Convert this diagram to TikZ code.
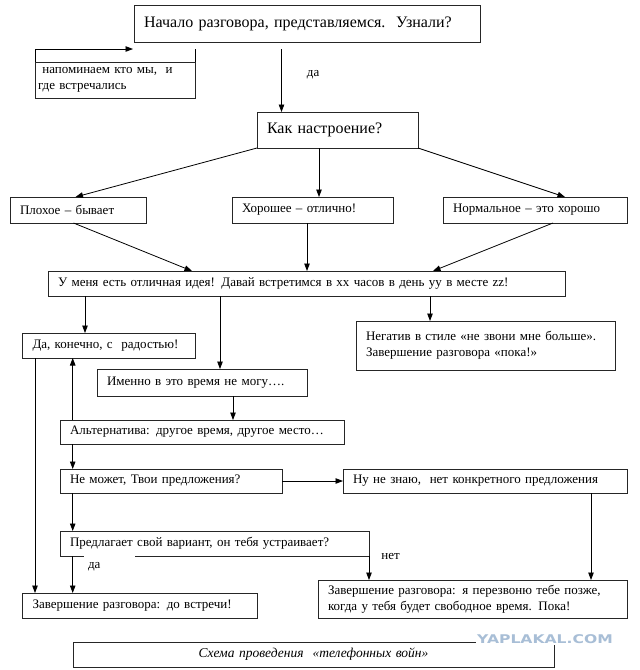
\documentclass[tikz,border=0pt]{standalone}
\usepackage{fontspec}
\setmainfont{Liberation Serif}
\newfontfamily\markfont{DejaVu Sans}
\usetikzlibrary{arrows.meta, calc}
\definecolor{markblue}{RGB}{168,190,214}

\tikzset{
    box/.style={draw=black!85, line width=0.8pt, anchor=north west, inner xsep=10pt, inner ysep=0pt,
        outer sep=0pt, align=left, font=\fontsize{13}{16}\selectfont},
    bigbox/.style={box, font=\fontsize{16}{18}\selectfont},
    arr/.style={line width=0.8pt, -{Triangle[length=7.5pt,width=5.5pt]}},
    lbl/.style={font=\fontsize{13}{14}\selectfont, inner sep=0pt}
}

\begin{document}
\begin{tikzpicture}[x=1pt, y=-1pt]
    \useasboundingbox (0,0) rectangle (640,670);

    % Top part
    \node[bigbox, text width=326pt, minimum height=37pt] (start) at (134,5)
        {Начало разговора, представляемся.~~Узнали?};
    \node[box, inner xsep=3pt, text width=154pt, minimum height=36pt] (remind) at (35,62)
        {\ напоминаем кто мы,~ и\\где встречались};
    \node[bigbox, text width=141pt, minimum height=36pt] (mood) at (257,112) {Как настроение?};

    % Mood answers
    \node[box, text width=116pt, minimum height=26pt] (bad) at (10,197) {Плохое – бывает};
    \node[box, text width=141pt, minimum height=26pt] (good) at (232,197) {Хорошее – отлично!};
    \node[box, text width=164pt, minimum height=26pt] (normal) at (443,197) {Нормальное – это хорошо};

    % Proposal
    \node[box, text width=497pt, minimum height=25pt] (idea) at (48,271)
        {У меня есть отличная идея! Давай встретимся в хх часов в день уу в месте zz!};
    \node[box, text width=152.5pt, minimum height=25pt] (yes) at (22.5,333) {Да, конечно, с~ радостью!};
    \node[box, text width=190pt, minimum height=27pt] (cant) at (97,369) {Именно в это время не могу….};
    \node[box, text width=239pt, minimum height=49pt] (neg) at (356,321)
        {Негатив в стиле «не звони мне больше».\\Завершение разговора «пока!»};
    \node[box, text width=264pt, minimum height=24pt] (alt) at (60,420)
        {Альтернатива: другое время, другое место…};
    \node[box, text width=202pt, minimum height=24pt] (yours) at (60,469) {Не может, Твои предложения?};
    \node[box, text width=264pt, minimum height=24pt] (dunno) at (343,469)
        {Ну не знаю,~ нет конкретного предложения};
    \node[box, draw=none, text width=289pt, minimum height=25pt] (offer) at (60,531)
        {Предлагает свой вариант, он тебя устраивает?};
    \node[box, text width=214.5pt, minimum height=25pt] (bye) at (22.5,593)
        {Завершение разговора: до встречи!};
    \node[box, text width=289pt, minimum height=38pt] (later) at (318,580)
        {Завершение разговора: я перезвоню тебе позже,\\когда у тебя будет свободное время. Пока!};

    % Caption
    \node[box, align=center, text width=461pt, minimum height=25pt,
        font=\fontsize{13.5}{15}\selectfont\itshape] (caption) at (73,642)
        {Схема проведения~ «телефонных войн»};
    \node[fill=white, inner sep=1pt, text=markblue, xscale=1.3,
        font=\markfont\bfseries\fontsize{12}{12}\selectfont] (mark) at (545,639) {YAPLAKAL.COM};

    % Offer box border with a gap
    \draw[draw=black!85, line width=0.8pt] ($(offer.south west)+(23.7,0)$) -- (offer.south west)
        -- (offer.north west) -- (offer.north east) -- (offer.south east) -- ($(offer.south west)+(74.7,0)$);

    % Connectors
    \draw[arr] (remind.north west) |- ($(start.south west)+(-1,7)$);
    \draw[line width=0.8pt] (remind.north east) -- ++(0,-13);
    \draw[arr] ($(start.south west)+(147.5,7)$) -- ($(mood.north west)+(24.5,0)$)
        node[lbl, pos=0.41, right, xshift=25pt] {да};
    \draw[arr] (mood.south west) -- ($(bad.north west)+(65.5,0)$);
    \draw[arr] ($(mood.south west)+(62,0)$) -- ($(good.north west)+(87,0)$);
    \draw[arr] (mood.south east) -- ($(normal.north west)+(122,0)$);
    \draw[arr] ($(bad.south west)+(63.5,0)$) -- ($(idea.north west)+(144,0)$);
    \draw[arr] ($(good.south west)+(75,0)$) -- ($(idea.north west)+(259,0)$);
    \draw[arr] ($(normal.south west)+(110,0)$) -- ($(idea.north west)+(385,0)$);
    \draw[arr] ($(idea.south west)+(37,0)$) -- ($(yes.north west)+(62.5,0)$);
    \draw[arr] ($(idea.south west)+(172,0)$) -- ($(cant.north west)+(123,0)$);
    \draw[arr] ($(idea.south west)+(382,0)$) -- ($(neg.north west)+(74,0)$);
    \draw[arr] ($(cant.south west)+(136,0)$) -- ($(alt.north west)+(173,0)$);
    \draw[arr] ($(alt.north west)+(12.7,0)$) -- ($(yes.south west)+(50.2,0)$);
    \draw[arr] ($(alt.south west)+(12.7,0)$) -- ($(yours.north west)+(12.7,0)$);
    \draw[arr] ($(yes.south west)+(12.5,0)$) -- ($(bye.north west)+(12.5,0)$);
    \draw[arr] (yours.east) -- (dunno.west);
    \draw[arr] ($(yours.south west)+(12.7,0)$) -- ($(offer.north west)+(12.7,0)$);
    \draw[arr] ($(offer.south west)+(12.7,0)$) -- ($(bye.north west)+(50.2,0)$)
        node[lbl, pos=0.3, right, xshift=15pt] {да};
    \draw[arr] (offer.south east) -- ($(later.north west)+(51,0)$)
        node[lbl, pos=0, right, xshift=12pt] {нет};
    \draw[arr] ($(dunno.south west)+(248,0)$) -- ($(later.north west)+(273,0)$);
\end{tikzpicture}
\end{document}
